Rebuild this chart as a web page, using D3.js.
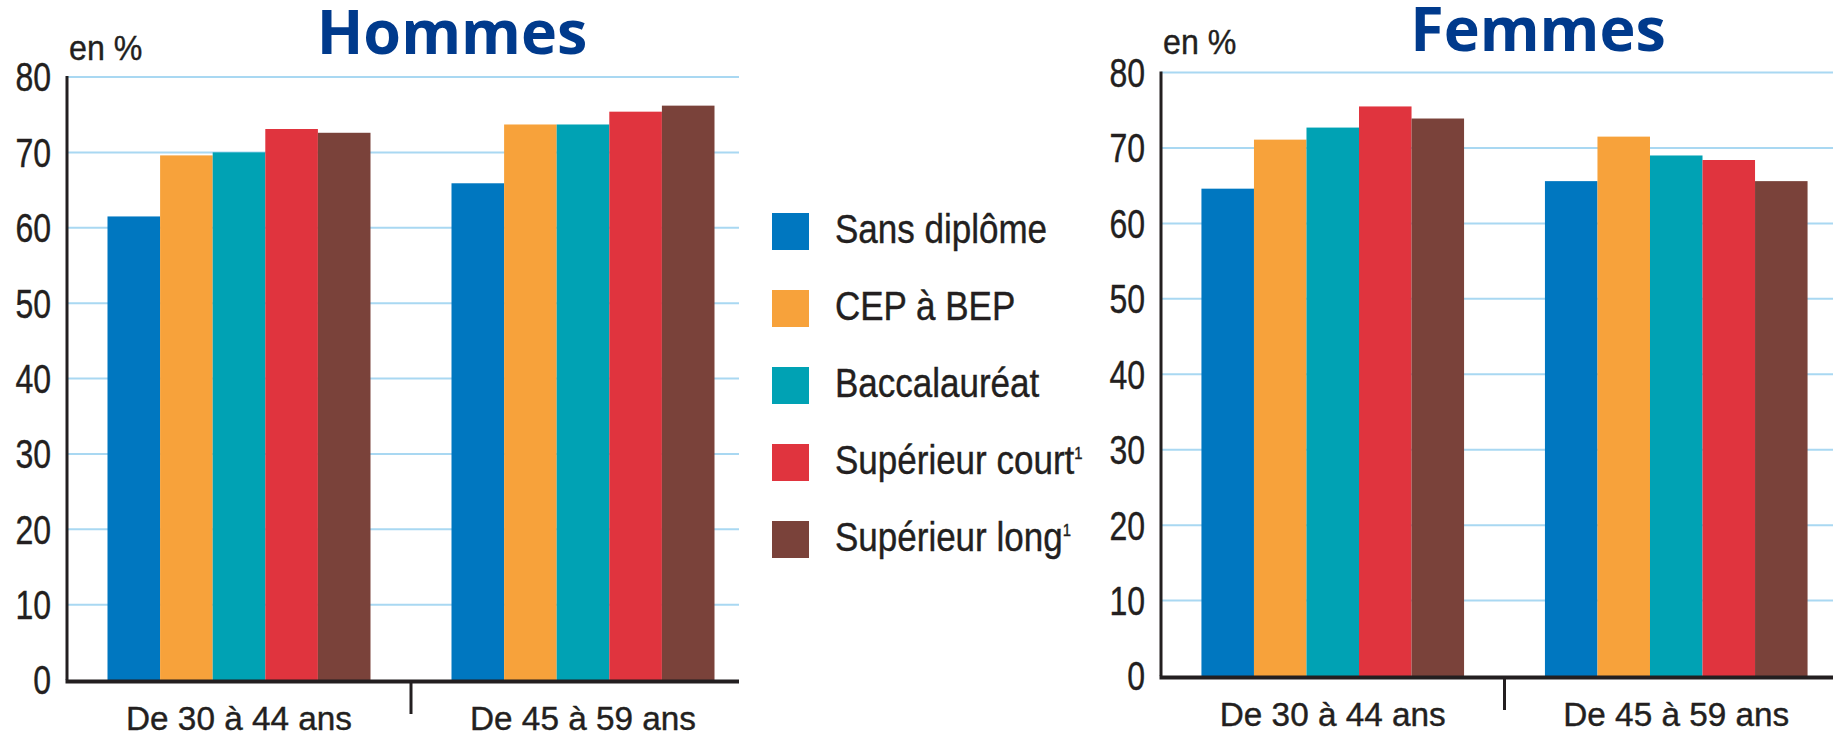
<!DOCTYPE html>
<html>
<head>
<meta charset="utf-8">
<script src="https://cdn.jsdelivr.net/npm/d3@7"></script>
<style>
  body { margin: 0; background: #fff; }
  text { fill: #231f20; font-family: "Liberation Sans", Arial, sans-serif; }
  .narrow { stroke: #231f20; stroke-width: 0.4px; }
  .title { fill: #003a8c; font-family: "Open Sans", Lato, sans-serif; font-weight: 700; }
</style>
</head>
<body>
<svg id="chart" width="1833" height="739"></svg>
<script>
var ageGroups = ['De 30 à 44 ans', 'De 45 à 59 ans'];
var diplomas = ['Sans diplôme', 'CEP à BEP', 'Baccalauréat', 'Supérieur court', 'Supérieur long'];
var diplomaNotes = ['', '', '', '1', '1'];
var diplomaColors = ['#0077c0', '#f7a23b', '#00a2b4', '#e0343e', '#7a423a'];
var yTicks = [0, 10, 20, 30, 40, 50, 60, 70, 80];

// taux en %, une ligne par tranche d'âge, une colonne par diplôme
var hommes = [
  [61.5, 69.6, 70.0, 73.1, 72.6],
  [65.9, 73.7, 73.7, 75.4, 76.2]
];
var femmes = [
  [64.6, 71.1, 72.7, 75.5, 73.9],
  [65.6, 71.5, 69.0, 68.4, 65.6]
];

var svg = d3.select('#chart');

// texte étroit (police condensée simulée par un scaleX)
function narrowText(parent, x, y, size, sx, anchor, str) {
  var t = parent.append('g')
    .attr('transform', 'translate(' + x + ',' + y + ') scale(' + sx + ',1)')
    .append('text')
    .attr('class', 'narrow')
    .attr('text-anchor', anchor || 'start')
    .style('font-size', size + 'px')
    .text(str);
  return t;
}

var panels = [
  { title: 'Hommes', values: hommes, left: 67, band: 344, right: 739, top: 77, bottom: 680,
    titleX: 452, titleY: 54, unitY: 60, labelY: 730 },
  { title: 'Femmes', values: femmes, left: 1161, band: 343.5, right: 1833, top: 72.5, bottom: 676,
    titleX: 1538, titleY: 51, unitY: 54, labelY: 726 }
];

panels.forEach(function (p) {
  var g = svg.append('g');

  var y = d3.scaleLinear().domain([0, 80]).range([p.bottom, p.top]);
  var x0 = d3.scaleBand().domain(ageGroups).range([p.left, p.left + 2 * p.band]);
  var x1 = d3.scaleBand().domain(diplomas).range([0, p.band]).paddingInner(0).paddingOuter(0.77);

  // grille
  g.selectAll('line.grid')
    .data(yTicks.filter(function (d) { return d > 0; }))
    .enter().append('line')
    .attr('x1', p.left).attr('x2', p.right)
    .attr('y1', function (d) { return y(d); })
    .attr('y2', function (d) { return y(d); })
    .attr('stroke', '#a9d8f2').attr('stroke-width', 2);

  // barres
  var groups = g.selectAll('g.age')
    .data(ageGroups)
    .enter().append('g')
    .attr('transform', function (d) { return 'translate(' + x0(d) + ',0)'; });

  groups.selectAll('rect')
    .data(function (d, i) { return p.values[i]; })
    .enter().append('rect')
    .attr('x', function (d, j) { return x1(diplomas[j]); })
    .attr('width', x1.bandwidth())
    .attr('y', function (d) { return y(d); })
    .attr('height', function (d) { return y(0) - y(d); })
    .attr('fill', function (d, j) { return diplomaColors[j]; });

  // axes
  g.append('line')
    .attr('x1', p.left).attr('x2', p.left)
    .attr('y1', y(80) - 1).attr('y2', y(0))
    .attr('stroke', '#231f20').attr('stroke-width', 3);
  g.append('line')
    .attr('x1', p.left - 1.5).attr('x2', p.right)
    .attr('y1', y(0) + 1.5).attr('y2', y(0) + 1.5)
    .attr('stroke', '#231f20').attr('stroke-width', 4);
  g.append('line')
    .attr('x1', x0(ageGroups[1])).attr('x2', x0(ageGroups[1]))
    .attr('y1', y(0)).attr('y2', y(0) + 34)
    .attr('stroke', '#231f20').attr('stroke-width', 3);

  yTicks.forEach(function (d) {
    narrowText(g, p.left - 16, y(d), 40, 0.8, 'end', d).attr('dy', '0.36em');
  });

  ageGroups.forEach(function (d) {
    narrowText(g, x0(d) + x0.bandwidth() / 2, p.labelY, 33, 1.01, 'middle', d);
  });

  narrowText(g, p.left + 2, p.unitY, 35, 0.92, 'start', 'en %');

  g.append('text')
    .attr('class', 'title')
    .attr('x', p.titleX)
    .attr('y', p.titleY)
    .attr('text-anchor', 'middle')
    .style('font-size', '61px')
    .text(p.title);
});

// légende
var legendY = d3.scaleBand().domain(diplomas).range([193, 578]);
var legend = svg.append('g');

diplomas.forEach(function (d, i) {
  var cy = legendY(d) + legendY.bandwidth() / 2;
  legend.append('rect')
    .attr('x', 772).attr('y', cy - 18.5)
    .attr('width', 37).attr('height', 37)
    .attr('fill', diplomaColors[i]);
  var t = narrowText(legend, 835, cy + 11, 40, 0.875, 'start', d);
  t.append('tspan')
    .attr('dy', -15)
    .style('font-size', '17px')
    .text(diplomaNotes[i]);
});
</script>
</body>
</html>
